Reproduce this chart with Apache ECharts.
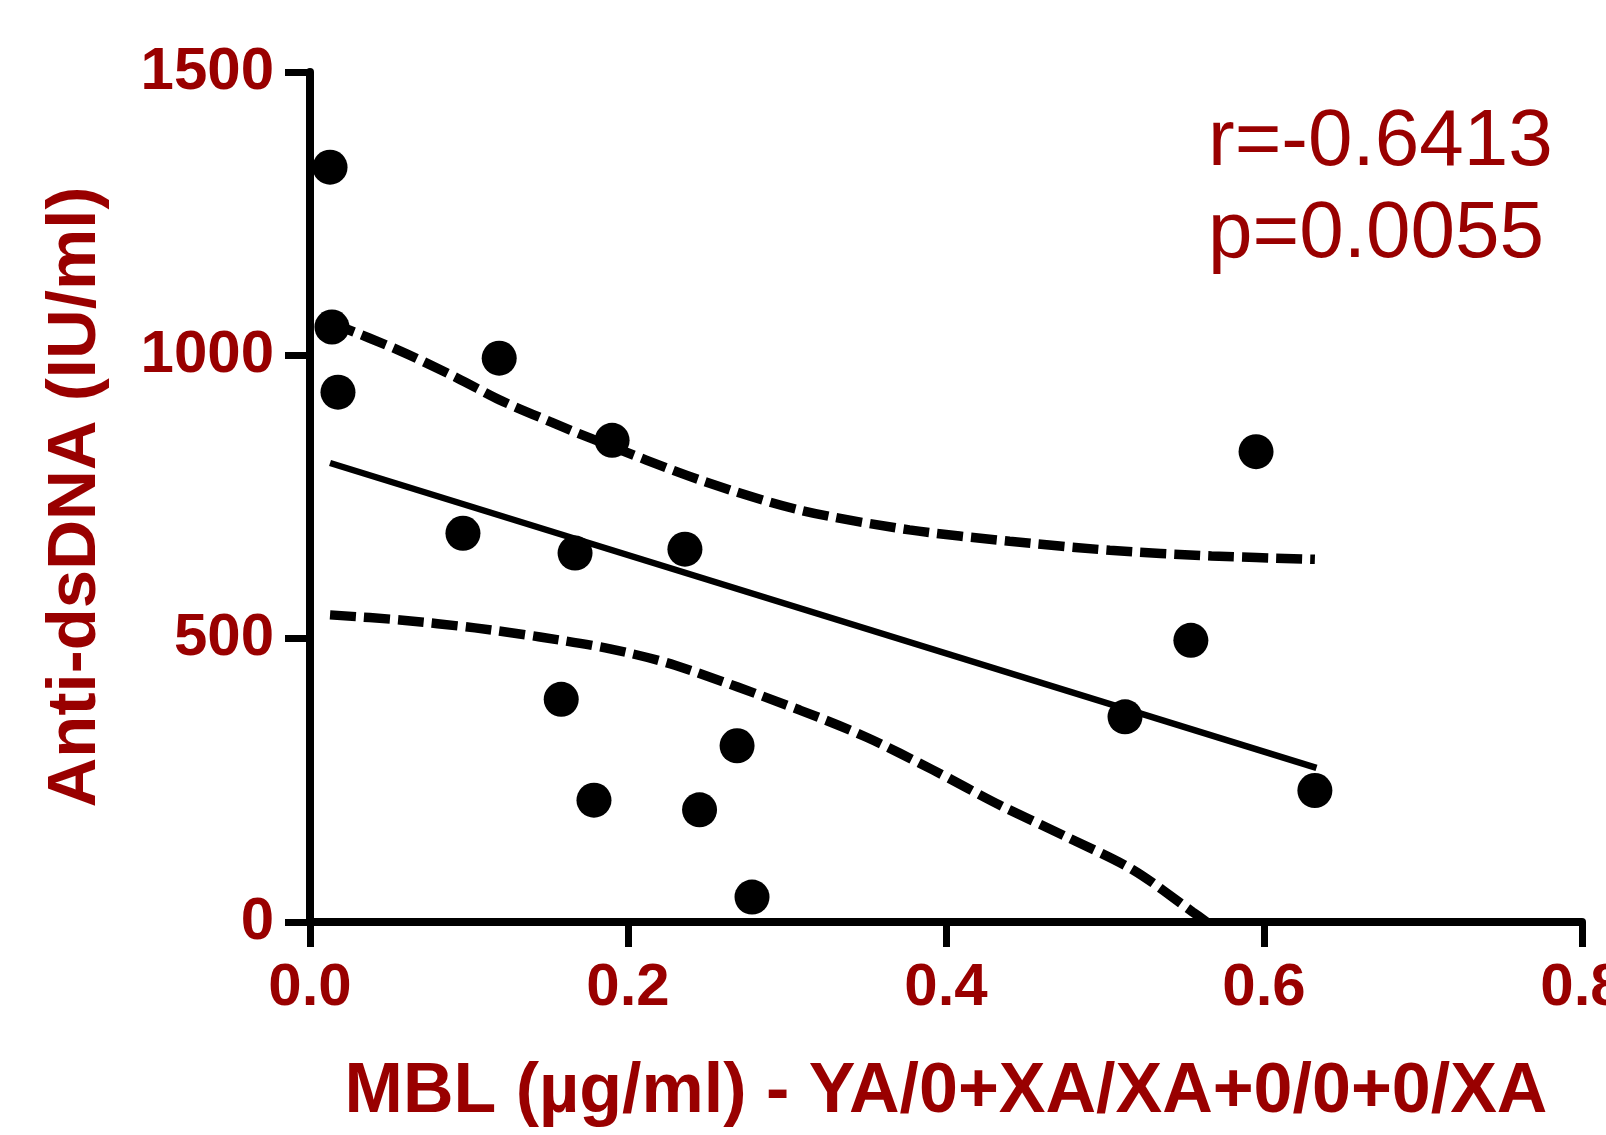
<!DOCTYPE html>
<html>
<head>
<meta charset="utf-8">
<title>Anti-dsDNA vs MBL</title>
<script src="https://cdn.jsdelivr.net/npm/echarts@6/dist/echarts.min.js"></script>
<style>
  html, body { margin: 0; padding: 0; background: #fff; }
  #main { width: 1606px; height: 1135px; }
</style>
</head>
<body>
<div id="main"></div>
<script>
// values
var xTicks = [0, 0.2, 0.4, 0.6, 0.8];
var yTicks = [0, 500, 1000, 1500];

// patients: MBL (ug/ml) and anti-dsDNA (IU/ml)
var mblX = [0.0126, 0.0138, 0.0176, 0.119, 0.190, 0.0962, 0.1667, 0.2358, 0.158,
            0.1786, 0.245, 0.2686, 0.278, 0.5126, 0.554, 0.595, 0.632];
var antiDsDna = [1332, 1050, 935, 995, 850, 686, 651, 658, 393,
                 215, 198, 311, 44, 362, 497, 830, 232];

// regression line
var fitX = [0.0126, 0.633];
var fitY = [810, 272];

// 95% confidence bands
var upperX = [0.0126, 0.0566, 0.0925, 0.1195, 0.151, 0.178, 0.2453, 0.308, 0.377, 0.44, 0.503, 0.567, 0.632];
var upperY = [1058, 1008, 960, 921, 883, 852, 780, 727, 692, 672, 656, 646, 640];
var lowerX = [0.0126, 0.0566, 0.1038, 0.1447, 0.1887, 0.2296, 0.308, 0.350, 0.392, 0.434, 0.476, 0.5176, 0.555, 0.564];
var lowerY = [542, 533, 519, 503, 482, 453, 374, 326, 268, 206, 150, 92, 18, 0];

var statsText = 'r=-0.6413\np=0.0055';

function pairs(xs, ys) {
  return xs.map(function (x, i) { return [x, ys[i]]; });
}

var red = '#990000';
var fontName = '"Liberation Sans", Arial, sans-serif';

var axisCommon = {
  type: 'value',
  nameLocation: 'middle',
  axisLine: { show: true, lineStyle: { color: '#000', width: 8 } },
  axisTick: { show: true, length: 25, lineStyle: { color: '#000', width: 7 } },
  splitLine: { show: false }
};

var myChart = echarts.init(document.getElementById('main'));

var option = {
  animation: false,
  backgroundColor: '#fff',
  grid: { left: 310, right: 24, top: 72, bottom: 213, outerBoundsMode: 'none', containLabel: false },
  xAxis: Object.assign({}, axisCommon, {
    min: xTicks[0],
    max: xTicks[xTicks.length - 1],
    interval: 0.2,
    name: 'MBL (\u00b5g/ml) - YA/0+XA/XA+0/0+0/XA',
    nameGap: 136,
    nameTextStyle: { color: red, fontSize: 70, fontWeight: 'bold', fontFamily: fontName },
    axisLabel: {
      color: red, fontSize: 60, fontWeight: 'bold', fontFamily: fontName, margin: 36,
      formatter: function (v) { return v.toFixed(1); }
    }
  }),
  yAxis: Object.assign({}, axisCommon, {
    min: yTicks[0],
    max: yTicks[yTicks.length - 1],
    interval: 500,
    name: 'Anti-dsDNA (IU/ml)',
    nameGap: 200,
    nameTextStyle: { color: red, fontSize: 69, fontWeight: 'bold', fontFamily: fontName },
    axisLabel: {
      color: red, fontSize: 60, fontWeight: 'bold', fontFamily: fontName, margin: 36,
      formatter: function (v) { return String(v); }
    }
  }),
  graphic: [{
    type: 'text',
    left: 1208,
    top: 97,
    style: {
      text: statsText,
      fill: red,
      font: '80px ' + fontName,
      lineHeight: 92
    }
  }],
  series: [
    {
      name: 'upper',
      type: 'line',
      data: pairs(upperX, upperY),
      smooth: 0.3,
      symbol: 'none',
      lineStyle: { color: '#000', width: 9.5, type: [26, 8] },
      z: 2
    },
    {
      name: 'lower',
      type: 'line',
      data: pairs(lowerX, lowerY),
      smooth: 0.3,
      symbol: 'none',
      lineStyle: { color: '#000', width: 9.5, type: [26, 8] },
      z: 2
    },
    {
      name: 'fit',
      type: 'line',
      data: pairs(fitX, fitY),
      symbol: 'none',
      lineStyle: { color: '#000', width: 6.5 },
      z: 3
    },
    {
      name: 'patients',
      type: 'scatter',
      data: pairs(mblX, antiDsDna),
      symbol: 'circle',
      symbolSize: 35,
      itemStyle: { color: '#000', opacity: 1 },
      z: 4
    }
  ]
};

myChart.setOption(option);
</script>
</body>
</html>
